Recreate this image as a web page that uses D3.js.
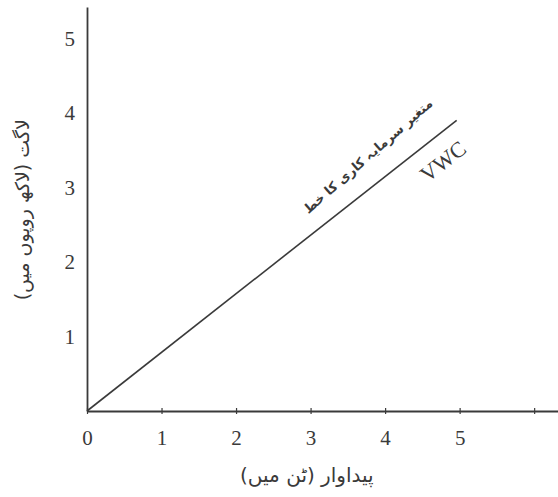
<!DOCTYPE html>
<html>
<head>
<meta charset="utf-8">
<script src="https://cdn.jsdelivr.net/npm/d3@7"></script>
<style>
  html, body { margin: 0; padding: 0; background: #fff; }
  svg { display: block; }
</style>
</head>
<body>
<svg id="chart" width="558" height="497"></svg>
<script>
// ---- data ----
const xTicks = [0, 1, 2, 3, 4, 5, 6];
const xTickLabels = ["0", "1", "2", "3", "4", "5", ""];
const yTicks = [1, 2, 3, 4, 5];
const yTickLabels = ["1", "2", "3", "4", "5"];
const lineX = [0, 4.96];
const lineY = [0, 3.9];
const xTitle = "پیداوار (ٹن میں)";
const yTitle = "لاگت (لاکھ روپوں میں)";
const lineLabel = "متغیر سرمایہ کاری کا خط";
const lineCode = "VWC";

const svg = d3.select("#chart");
const ink = "#3a3a3a";

const x = d3.scaleLinear().domain([0, 6.32]).range([87, 558]);
const y = d3.scaleLinear().domain([0, 5.42]).range([411, 7]);

// x axis
const xAxis = d3.axisBottom(x)
  .tickValues(xTicks)
  .tickFormat((d, i) => xTickLabels[i])
  .tickSizeInner(3).tickSizeOuter(0).tickPadding(16);
const gx = svg.append("g").attr("transform", `translate(0,${y(0)})`).call(xAxis);
gx.select(".domain").attr("stroke", ink).attr("stroke-width", 1.8);
gx.selectAll(".tick line").attr("stroke", ink).attr("stroke-width", 1.2).attr("y1", -3);
gx.selectAll(".tick text")
  .attr("fill", ink).attr("font-family", "'Liberation Serif', serif").attr("font-size", 21);

// y axis
const yAxis = d3.axisLeft(y)
  .tickValues(yTicks)
  .tickFormat((d, i) => yTickLabels[i])
  .tickSizeInner(5).tickSizeOuter(0).tickPadding(7);
const gy = svg.append("g").attr("transform", `translate(${x(0)},0)`).call(yAxis);
gy.select(".domain").attr("stroke", ink).attr("stroke-width", 1.8);
gy.selectAll(".tick line").attr("stroke", ink).attr("stroke-width", 1.2).attr("x2", 1);
gy.selectAll(".tick text")
  .attr("fill", ink).attr("font-family", "'Liberation Serif', serif").attr("font-size", 21);

// the line
const pts = lineX.map((v, i) => [v, lineY[i]]);
svg.append("path")
  .datum(pts)
  .attr("fill", "none")
  .attr("stroke", ink)
  .attr("stroke-width", 1.6)
  .attr("d", d3.line().x(d => x(d[0])).y(d => y(d[1])));

// angle of line in screen space
const ang = Math.atan2(y(lineY[1]) - y(lineY[0]), x(lineX[1]) - x(lineX[0])) * 180 / Math.PI;

// line label (Urdu) above the line
svg.append("text")
  .attr("transform", `translate(${x(3.78)},${y(3.41)}) rotate(${ang - 3})`)
  .attr("text-anchor", "middle")
  .attr("dominant-baseline", "middle")
  .attr("direction", "rtl")
  .attr("font-family", "'DejaVu Sans', 'Noto Sans', sans-serif")
  .attr("font-size", 13)
  .attr("font-weight", "bold")
  .attr("fill", ink)
  .text(lineLabel);

// VWC below the line
svg.append("text")
  .attr("transform", `translate(${x(4.84)},${y(3.27)}) rotate(${ang})`)
  .attr("text-anchor", "middle")
  .attr("font-family", "'Liberation Serif', serif")
  .attr("font-size", 22)
  .attr("fill", ink)
  .text(lineCode);

// x title
svg.append("text")
  .attr("x", x(2.95)).attr("y", 482)
  .attr("text-anchor", "middle")
  .attr("direction", "rtl")
  .attr("font-family", "'DejaVu Sans', 'Noto Sans', sans-serif")
  .attr("font-size", 20)
  .attr("fill", ink)
  .text(xTitle);

// y title
svg.append("text")
  .attr("transform", `translate(29,${y(2.7)}) rotate(-90)`)
  .attr("text-anchor", "middle")
  .attr("direction", "rtl")
  .attr("font-family", "'DejaVu Sans', 'Noto Sans', sans-serif")
  .attr("font-size", 19)
  .attr("fill", ink)
  .text(yTitle);
</script>
</body>
</html>
